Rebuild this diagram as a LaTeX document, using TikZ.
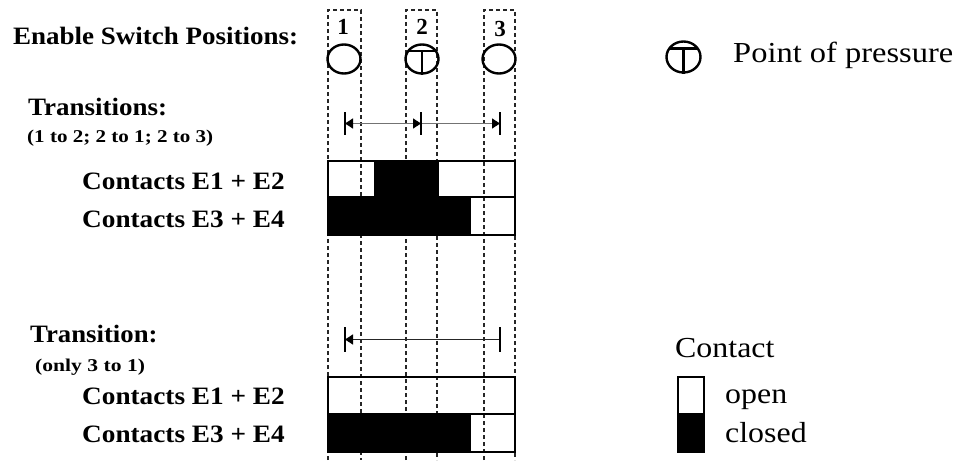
\documentclass[tikz,border=0pt]{standalone}
\usepackage{fontspec}
\setmainfont{Liberation Serif}
\usetikzlibrary{arrows.meta,shapes.geometric}
\newcommand\hstr[2]{\scalebox{#1}[1]{#2}}
\begin{document}
\begin{tikzpicture}[x=1pt,y=-1pt,
  lab/.style={anchor=base west,inner sep=0pt,font=\bfseries\fontsize{25}{30}\selectfont},
  small/.style={anchor=base west,inner sep=0pt,font=\bfseries\fontsize{18}{22}\selectfont},
  reg/.style={anchor=base west,inner sep=0pt,font=\fontsize{29}{34}\selectfont},
  num/.style={anchor=base,inner sep=0pt,font=\bfseries\fontsize{23}{27}\selectfont},
  posc/.style={draw,line width=2.4pt,ellipse,inner sep=0pt,minimum width=33pt,minimum height=29pt},
  guide/.style={line width=1.3pt,black!85,dash pattern=on 4pt off 3pt},
  cellbox/.style={line width=2pt,black},
  closedcell/.style={fill=black},
  bar/.style={line width=2.8pt,black},
  trans/.style={line width=1.3pt,black!55},
  tip/.style={Triangle[length=8pt,width=10pt,color=black]}
]
\useasboundingbox (0,0) rectangle (960,460);

% dashed guides (position windows)
\draw[guide] (328,460) -- (328,10) -- (361,10) -- (361,460);
\draw[guide] (406,460) -- (406,10) -- (437,10) -- (437,460);
\draw[guide] (484,460) -- (484,10) -- (515,10) -- (515,460);

% position numbers and circles
\node[num] (n1) at (343,35) {1};
\node[num] (n2) at (422,35) {2};
\node[num] (n3) at (500,37) {3};
\node[posc] (p1) at (344,59) {};
\node[posc] (p2) at (422,59) {};
\node[posc] (p3) at (499,59) {};
\draw[line width=2.2pt] ([xshift=-13.8pt,yshift=8pt]p2.center) -- ([xshift=13.8pt,yshift=8pt]p2.center);
\draw[line width=2.2pt] ([yshift=8pt]p2.center) -- (p2.south);

% legend: point of pressure
\node[posc,minimum width=34pt,minimum height=31pt] (lp) at (683.5,57) {};
\draw[line width=2.2pt] ([xshift=-14.5pt,yshift=8.5pt]lp.center) -- ([xshift=14.5pt,yshift=8.5pt]lp.center);
\draw[line width=2.2pt] ([yshift=8.5pt]lp.center) -- (lp.south);
\node[reg] (lpt) at (733,63) {\hstr{1.12}{Point of pressure}};

% labels left
\node[lab] (esp) at (13,45) {\hstr{1.08}{Enable Switch Positions:}};
\node[lab] (tr1) at (28,115) {\hstr{1.08}{Transitions:}};
\node[small] (tr1s) at (27,142) {\hstr{1.17}{(1 to 2; 2 to 1; 2 to 3)}};
\node[lab] (c12a) at (82,189) {\hstr{1.09}{Contacts E1 + E2}};
\node[lab] (c34a) at (82,227) {\hstr{1.09}{Contacts E3 + E4}};
\node[lab] (tr2) at (30,342) {\hstr{1.07}{Transition:}};
\node[small] (tr2s) at (35,371) {\hstr{1.2}{(only 3 to 1)}};
\node[lab] (c12b) at (82,404) {\hstr{1.09}{Contacts E1 + E2}};
\node[lab] (c34b) at (82,442) {\hstr{1.09}{Contacts E3 + E4}};

% transition arrows (upper)
\coordinate (a1) at (345,123.5);
\coordinate (a2) at (421,123.5);
\coordinate (a3) at (500,123.5);
\draw[trans,{Triangle[length=8pt,width=10pt,color=black]}-{Triangle[length=8pt,width=10pt,color=black]}] (a1) -- (a2);
\draw[trans,-{Triangle[length=8pt,width=10pt,color=black]}] (a2) -- (a3);
\foreach \c in {a1,a2,a3} \draw[bar] ([yshift=11.5pt]\c) -- ([yshift=-11.5pt]\c);

% transition arrow (lower)
\coordinate (d1) at (345,339.5);
\coordinate (d3) at (500,339.5);
\draw[trans,black!85,{Triangle[length=8pt,width=10pt,color=black]}-] (d1) -- (d3);
\foreach \c in {d1,d3} \draw[bar] ([yshift=12.5pt]\c) -- ([yshift=-12.5pt]\c);

% contact diagram upper
\fill[closedcell] (375,161) rectangle (438,197);
\fill[closedcell] (328,197) rectangle (470,235);
\draw[cellbox] (328,161) rectangle (515,235);
\draw[cellbox] (328,197) -- (515,197);
\draw[cellbox] (470,197) -- (470,235);
\draw[cellbox] (375,161) -- (375,197);
\draw[cellbox] (438,161) -- (438,197);

% contact diagram lower
\fill[closedcell] (328,414) rectangle (470,452);
\draw[cellbox] (328,377) rectangle (515,452);
\draw[cellbox] (328,414) -- (515,414);
\draw[cellbox] (470,414) -- (470,452);

% legend: contact
\node[reg] (lc) at (675,357) {\hstr{1.1}{Contact}};
\fill[closedcell] (678,413) rectangle (704,452);
\draw[cellbox] (678,377) rectangle (704,452);
\node[reg] (lo) at (725,403) {\hstr{1.1}{open}};
\node[reg] (lcl) at (725,442) {\hstr{1.1}{closed}};
\end{tikzpicture}
\end{document}
